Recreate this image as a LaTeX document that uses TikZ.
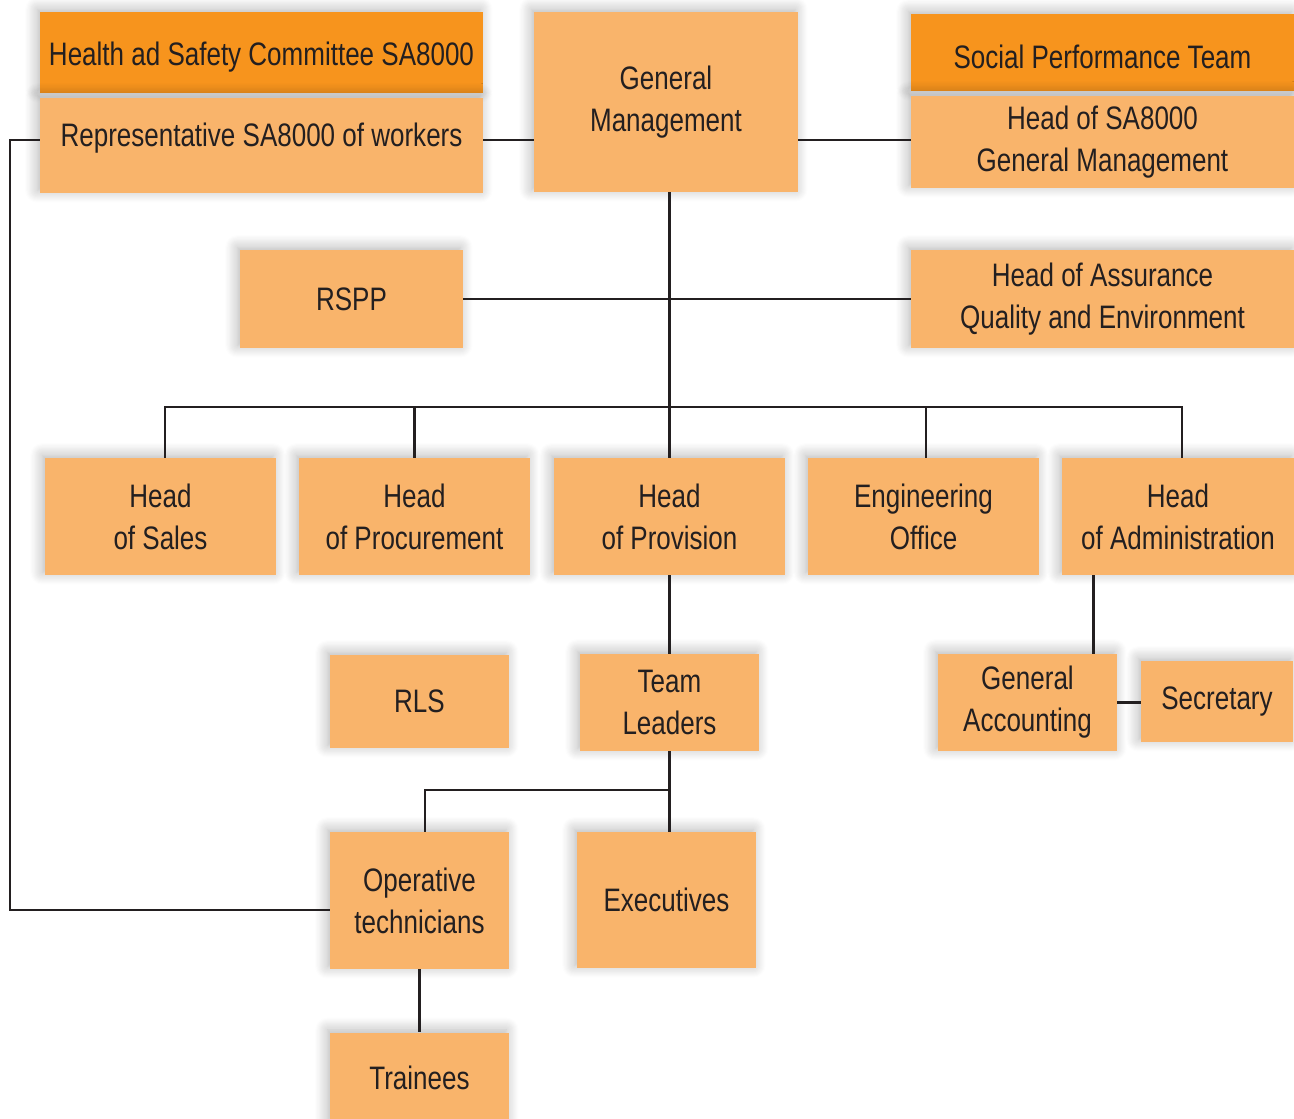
\documentclass[tikz,border=0pt]{standalone}
\usepackage{fontspec}
\setmainfont{Liberation Sans}[FakeStretch=0.8]
\usepackage{tikz}
\usetikzlibrary{positioning,calc,shadows.blur}
\definecolor{boxlight}{HTML}{F9B46B}
\definecolor{boxdark}{HTML}{F7941D}
\definecolor{inkgray}{HTML}{231F20}

\begin{document}
\begin{tikzpicture}[
  font=\fontsize{18.5}{24}\selectfont,
  text=inkgray,
  box/.style={fill=boxlight,draw=none,inner sep=0pt,align=center,
    blur shadow={shadow xshift=-1.5pt,shadow yshift=1.5pt,shadow blur radius=7pt,
      shadow blur steps=12,shadow opacity=30}},
  head/.style={box,fill=boxdark,text height=0.66cm},
  link/.style={draw=inkgray,line width=1.5pt}
]
\useasboundingbox (0,0) rectangle (25.88,-22.38);
% top row
\node[head,minimum width=8.86cm,minimum height=1.62cm] (hsc) at (5.23,-1.05) {Health ad Safety Committee SA8000};
\node[box,minimum width=8.86cm,minimum height=1.9cm,text depth=0.45cm] (rep) at (5.23,-2.91) {Representative SA8000 of workers};
\node[box,minimum width=5.28cm,minimum height=3.6cm] (gm) at (13.32,-2.04) {General\\Management};
\node[head,minimum width=7.66cm,minimum height=1.54cm] (spt) at (22.05,-1.05) {Social Performance Team};
\node[box,minimum width=7.66cm,minimum height=1.84cm] (hsa) at (22.05,-2.84) {Head of SA8000\\General Management};
% staff
\node[box,minimum width=4.46cm,minimum height=1.96cm] (rspp) at (7.03,-5.98) {RSPP};
\node[box,minimum width=7.66cm,minimum height=1.96cm] (haqe) at (22.05,-5.98) {Head of Assurance\\Quality and Environment};
% heads
\node[box,minimum width=4.62cm,minimum height=2.34cm] (sales) at (3.21,-10.33) {Head\\of Sales};
\node[box,minimum width=4.62cm,minimum height=2.34cm] (proc) at (8.29,-10.33) {Head\\of Procurement};
\node[box,minimum width=4.62cm,minimum height=2.34cm] (prov) at (13.39,-10.33) {Head\\of Provision};
\node[box,minimum width=4.62cm,minimum height=2.34cm] (eng) at (18.47,-10.33) {Engineering\\Office};
\node[box,minimum width=4.64cm,minimum height=2.34cm] (adm) at (23.56,-10.33) {Head\\of Administration};
% lower levels
\node[box,minimum width=3.58cm,minimum height=1.86cm] (rls) at (8.39,-14.03) {RLS};
\node[box,minimum width=3.58cm,minimum height=1.94cm] (tl) at (13.39,-14.05) {Team\\Leaders};
\node[box,minimum width=3.58cm,minimum height=1.94cm] (ga) at (20.55,-14.05) {General\\Accounting};
\node[box,minimum width=3.04cm,minimum height=1.62cm] (sec) at (24.34,-14.03) {Secretary};
\node[box,minimum width=3.58cm,minimum height=2.74cm] (op) at (8.39,-18.01) {Operative\\technicians};
\node[box,minimum width=3.58cm,minimum height=2.72cm] (exe) at (13.33,-18.0) {Executives};
\node[box,minimum width=3.58cm,minimum height=1.8cm] (tr) at (8.39,-21.55) {Trainees};

% helper points
\coordinate (lv) at (0.2,-2.8);
\coordinate (bus) at (0,-8.14);
\coordinate (split) at (0,-15.8);

% connectors
\draw[link] (rep.east |- lv) -- (gm.west |- lv);
\draw[link] (gm.east |- lv) -- (hsa.west |- lv);
\draw[link] (rep.west |- lv) -- (lv) |- ([yshift=-0.19cm]op.west);
\draw[link] (prov.north |- gm.south) -- (prov.north);
\draw[link] (rspp.east) -- (haqe.west);
\draw[link] ([xshift=0.09cm]sales.north) coordinate (salestop) -- (salestop |- bus) -- ([xshift=0.08cm]adm.north |- bus) coordinate (admbus) -- (admbus |- adm.north);
\draw[link] (proc.north) -- (proc.north |- bus);
\draw[link] ([xshift=0.05cm]eng.north) coordinate (engtop) -- (engtop |- bus);
\draw[link] (prov.south) -- (tl.north);
\draw[link] ([xshift=-0.48cm]ga.north east) coordinate (gatop) -- (gatop |- adm.south);
\draw[link] (ga.east) -- (ga.east -| sec.west);
\draw[link] (tl.south) -- (tl.south |- exe.north);
\draw[link] (tl.south |- split) -| ([xshift=0.11cm]op.north);
\draw[link] (op.south) -- (tr.north);
\end{tikzpicture}
\end{document}
